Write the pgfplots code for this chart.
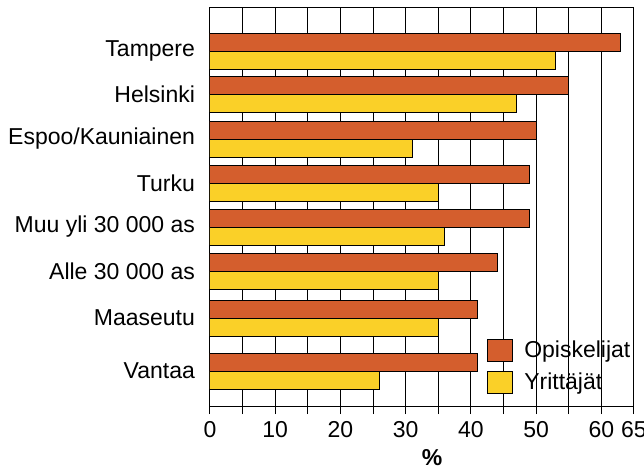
\documentclass[border=0pt]{standalone}
\usepackage{pgfplots}
\pgfplotsset{compat=1.18}
\usepackage{fontspec}
\setmainfont{Liberation Sans}
\definecolor{opisk}{RGB}{212,94,45}
\definecolor{yritt}{RGB}{250,208,40}
\begin{document}
\begin{tikzpicture}
\useasboundingbox (0,0) rectangle (322pt,234pt);
\begin{axis}[
  at={(105pt,31pt)}, anchor=south west,
  scale only axis, width=212pt, height=199.5pt,
  xmin=0, xmax=65, ymin=7, ymax=406, y dir=reverse,
  xbar, bar width=18, bar shift=0pt,
  xtick={0,5,...,65},
  xticklabels={0,,10,,20,,30,,40,,50,,60,65},
  xmajorgrids, grid style={black, line width=0.5pt},
  axis line style={black, line width=0.5pt},
  tick align=outside, xtick pos=bottom, major tick length=4pt,
  xtick style={black, line width=0.5pt},
  ytick={51,94,139,183,227,271,318,371},
  yticklabels={Tampere,Helsinki,Espoo/Kauniainen,Turku,Muu yli 30 000 as,Alle 30 000 as,Maaseutu,Vantaa},
  ytick pos=left, ytick style={draw=none},
  tick label style={font=\fontsize{11.5}{13.5}\selectfont},
  /pgf/number format/assume math mode=true,
  xlabel={\textbf{\%}},
  xlabel style={at={(axis description cs:0.524,0)}, anchor=center, yshift=-26pt, font=\fontsize{11.5}{13.5}\selectfont},
  legend image code/.code={\draw[#1,draw=black,line width=0.5pt] (0pt,-5.6pt) rectangle (12.5pt,5.6pt); \path (16pt,0pt);},
  legend style={draw=none, fill=none, at={(0.653,0.175)}, anchor=north west, inner sep=0pt, row sep=2.3pt,
    font=\fontsize{11.5}{13.5}\selectfont},
  legend cell align=left,
]
\addplot[fill=opisk, draw=black, line width=0.5pt] coordinates {
  (63,42) (55,85) (50,130) (49,174) (49,218) (44,262) (41,309) (41,362)};
\addplot[fill=yritt, draw=black, line width=0.5pt] coordinates {
  (53,60) (47,103) (31,148) (35,192) (36,236) (35,280) (35,327) (26,380)};
\legend{Opiskelijat,Yrittäjät}
\end{axis}
\end{tikzpicture}
\end{document}
